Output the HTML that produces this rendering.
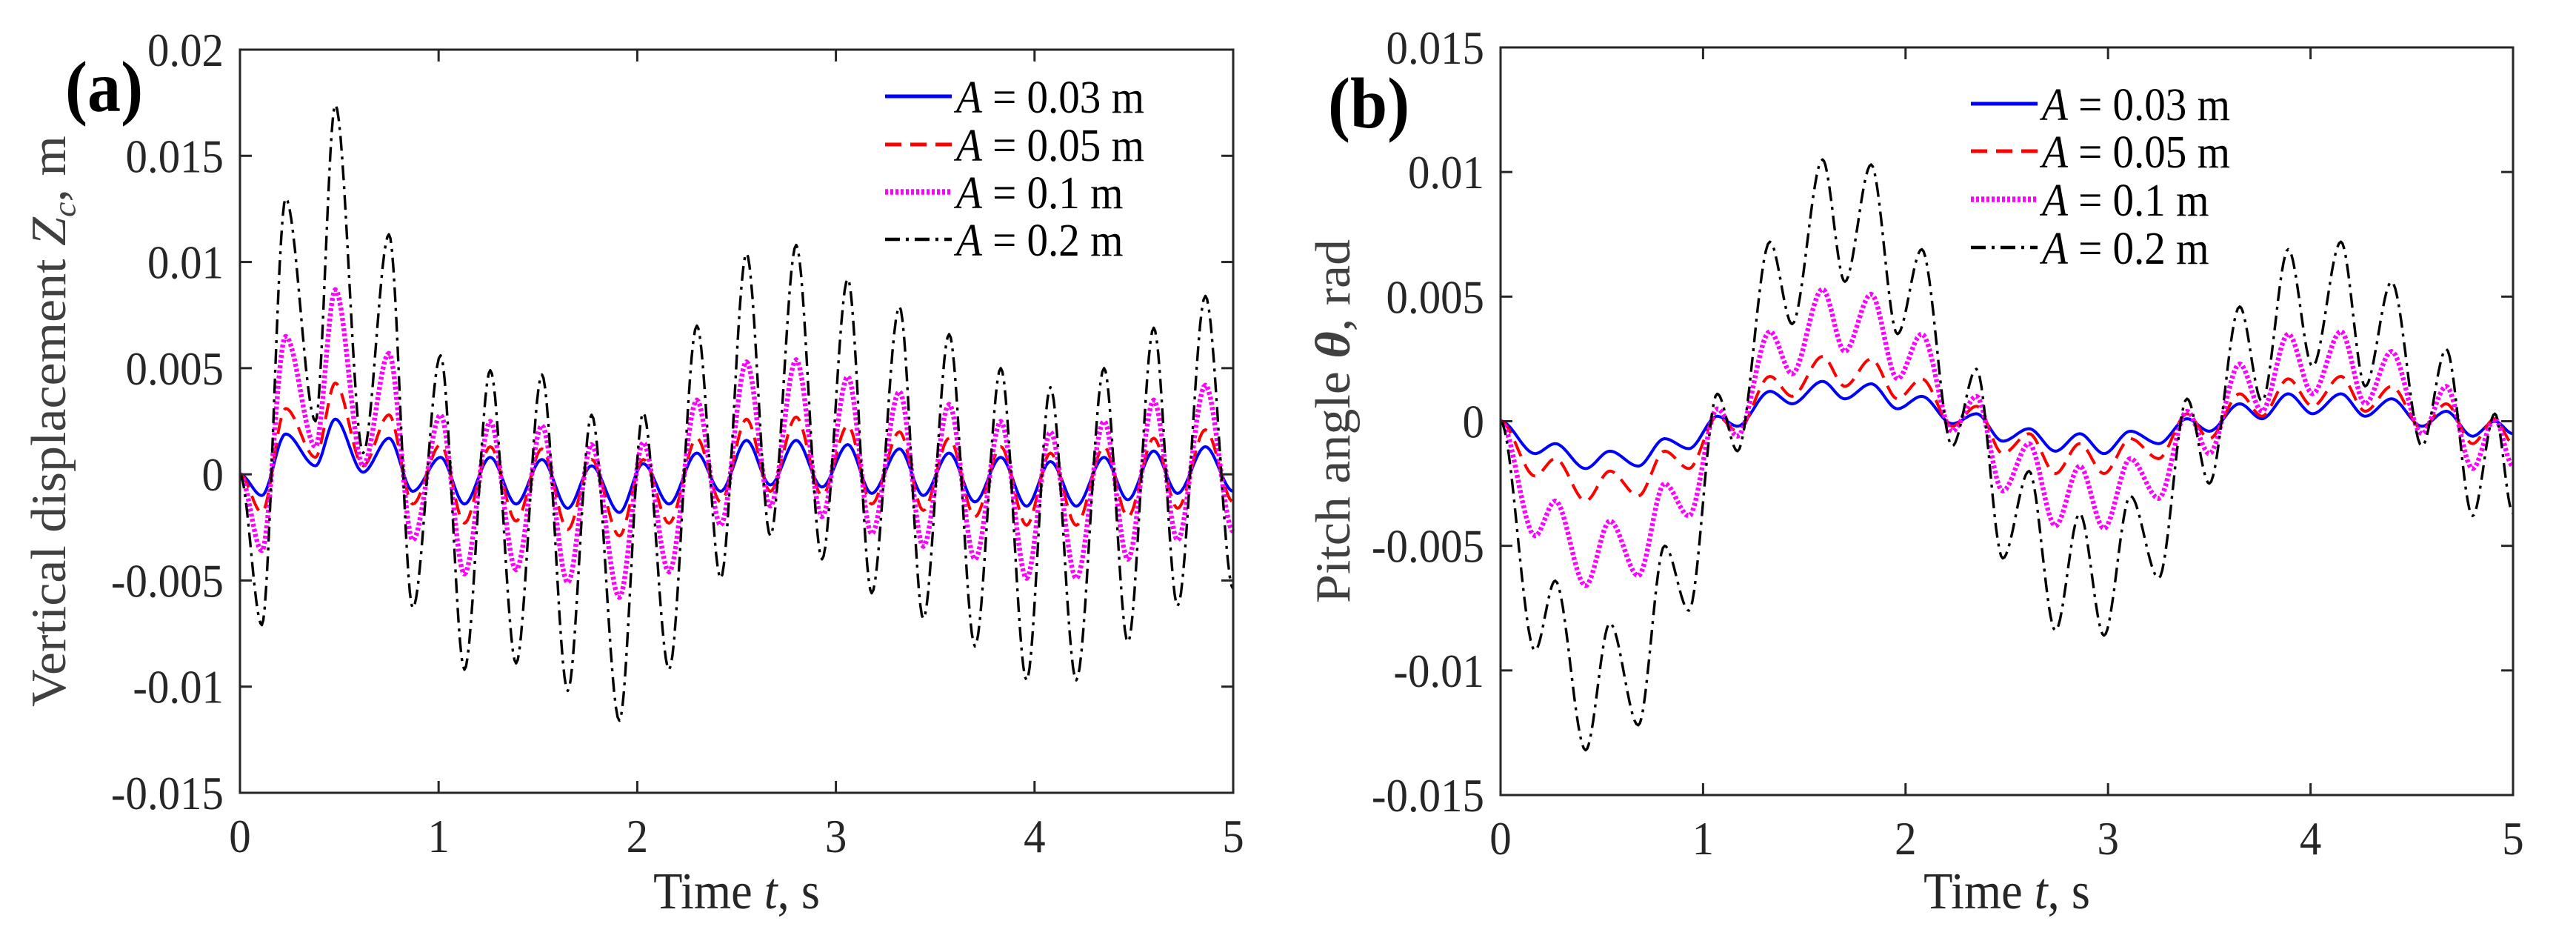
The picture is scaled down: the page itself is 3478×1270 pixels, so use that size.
<!DOCTYPE html>
<html><head><meta charset="utf-8"><style>
html,body{margin:0;padding:0;background:#fff}
svg{display:block;font-family:"Liberation Serif",serif}
</style></head><body>
<svg id="fig" width="3478" height="1270" viewBox="0 0 3478 1270" xmlns="http://www.w3.org/2000/svg"></svg>
<script>
// ---- Panel (a) data ----
const timesA = [0,0.11,0.23,0.38,0.48,0.62,0.75,0.87,1.01,1.13,1.26,1.39,1.52,1.65,1.77,1.91,2.03,2.16,2.30,2.42,2.55,2.67,2.80,2.93,3.06,3.18,3.32,3.44,3.57,3.70,3.83,3.96,4.08,4.21,4.35,4.47,4.60,4.72,4.86,5.0];
const a003 = [0,-0.001,0.0019,0.0004,0.0026,0.0001,0.0017,-0.0008,0.0008,-0.0014,0.0008,-0.0014,0.0007,-0.0016,0.0004,-0.0018,0.0005,-0.0014,0.001,-0.0008,0.0016,-0.0005,0.0016,-0.0006,0.0014,-0.0009,0.0012,-0.001,0.001,-0.0013,0.0008,-0.0015,0.0006,-0.0015,0.0008,-0.0012,0.0011,-0.0009,0.0013,-0.0008];
const a005 = [0,-0.0018,0.0031,0.0008,0.0043,0.0004,0.0028,-0.0014,0.0014,-0.0023,0.0013,-0.0022,0.0012,-0.0026,0.0007,-0.0029,0.0007,-0.0023,0.0017,-0.0013,0.0026,-0.0008,0.0027,-0.001,0.0023,-0.0014,0.002,-0.0017,0.0017,-0.002,0.0013,-0.0024,0.001,-0.0024,0.0013,-0.002,0.0017,-0.0016,0.0021,-0.0013];
const a01 = [0,-0.0036,0.0065,0.0013,0.0087,0.0004,0.0057,-0.0031,0.0028,-0.0047,0.0025,-0.0045,0.0023,-0.0051,0.0014,-0.0058,0.0015,-0.0046,0.0035,-0.0024,0.0053,-0.0015,0.0054,-0.002,0.0046,-0.0028,0.0039,-0.0034,0.0033,-0.004,0.0025,-0.0049,0.002,-0.0049,0.0025,-0.004,0.0035,-0.0031,0.0042,-0.0027];
const a02 = [0,-0.0071,0.013,0.0025,0.0174,0.001,0.0113,-0.0063,0.0056,-0.0092,0.0049,-0.0089,0.0047,-0.0102,0.0028,-0.0116,0.0029,-0.0092,0.007,-0.0049,0.0104,-0.0029,0.0108,-0.004,0.0092,-0.0056,0.0079,-0.0068,0.0066,-0.0081,0.005,-0.0097,0.0041,-0.0097,0.005,-0.0079,0.0069,-0.0062,0.0084,-0.0054];
// ---- Panel (b) data ----
const timesB = [0,0.17,0.27,0.42,0.54,0.68,0.81,0.93,1.07,1.17,1.33,1.44,1.59,1.70,1.83,1.96,2.08,2.23,2.35,2.48,2.61,2.74,2.86,2.98,3.11,3.25,3.39,3.50,3.65,3.76,3.89,4.01,4.15,4.27,4.40,4.55,4.67,4.80,4.91,5.0];
const b003 = [0,-0.0013,-0.0009,-0.0019,-0.0012,-0.0018,-0.0007,-0.0011,0.0002,-0.0002,0.0012,0.0007,0.0016,0.0009,0.0015,0.0005,0.001,-0.0001,0.0003,-0.0008,-0.0003,-0.0012,-0.0005,-0.0013,-0.0004,-0.0009,0.0001,-0.0004,0.0007,0.0001,0.0011,0.0003,0.0011,0.0002,0.0009,-0.0002,0.0004,-0.0006,0,-0.0005];
const b005 = [0,-0.0022,-0.0015,-0.0032,-0.002,-0.003,-0.0012,-0.0019,0.0002,-0.0004,0.0018,0.001,0.0026,0.0014,0.0025,0.0009,0.0017,-0.0002,0.0006,-0.0013,-0.0005,-0.0021,-0.0009,-0.0021,-0.0007,-0.0015,0.0003,-0.0007,0.0011,0.0002,0.0017,0.0006,0.0018,0.0004,0.0014,-0.0003,0.0007,-0.0009,0.0001,-0.0009];
const b01 = [0,-0.0046,-0.0032,-0.0066,-0.004,-0.0062,-0.0025,-0.0038,0.0005,-0.0006,0.0036,0.0019,0.0053,0.0028,0.0051,0.0017,0.0035,-0.0004,0.001,-0.0028,-0.0009,-0.0042,-0.0018,-0.0043,-0.0015,-0.0031,0.0004,-0.0013,0.0023,0.0004,0.0035,0.0011,0.0036,0.0007,0.0028,-0.0005,0.0014,-0.0019,0.0001,-0.0018];
const b02 = [0,-0.0092,-0.0064,-0.0132,-0.0081,-0.0122,-0.005,-0.0076,0.0011,-0.0012,0.0072,0.0039,0.0105,0.0056,0.0103,0.0035,0.0069,-0.001,0.0021,-0.0055,-0.002,-0.0084,-0.0037,-0.0086,-0.003,-0.0063,0.0009,-0.0025,0.0046,0.0008,0.0069,0.0022,0.0072,0.0014,0.0056,-0.001,0.0029,-0.0038,0.0003,-0.0037];
const xTicks = [0,1,2,3,4,5];
const xTickLabels = ["0","1","2","3","4","5"];
const yTicksA = [-0.015,-0.01,-0.005,0,0.005,0.01,0.015,0.02];
const yTickLabelsA = ["-0.015","-0.01","-0.005","0","0.005","0.01","0.015","0.02"];
const yTicksB = [-0.015,-0.01,-0.005,0,0.005,0.01,0.015];
const yTickLabelsB = ["-0.015","-0.01","-0.005","0","0.005","0.01","0.015"];
const legendLabels = ["0.03","0.05","0.1","0.2"];

const NS="http://www.w3.org/2000/svg";
const svg=document.getElementById('fig');
function el(tag,attrs,parent){const e=document.createElementNS(NS,tag);for(const k in attrs)e.setAttribute(k,attrs[k]);(parent||svg).appendChild(e);return e;}
const styles=[
 {stroke:"#0000ff",w:4,dash:""},
 {stroke:"#ff0000",w:4,dash:"22 12"},
 {stroke:"#ff00ff",w:6.5,dash:"4 3"},
 {stroke:"#000000",w:3.4,dash:"20 8 4 8"}
];
function panel(cfg){
 const g=el('g',{});
 
 
 const {L,R,T,B,ymin,ymax}=cfg;
 const sx=t=>L+(t-0)/5*(R-L);
 const sy=v=>B-(v-ymin)/(ymax-ymin)*(B-T);
 cfg.series.forEach((vals,si)=>{
  let d="";
  for(let i=0;i<cfg.times.length;i++){
   if(i===0){d+="M"+sx(cfg.times[0]).toFixed(1)+","+sy(vals[0]).toFixed(1);continue;}
   const t0=cfg.times[i-1],t1=cfg.times[i],v0=vals[i-1],v1=vals[i];
   for(let k=1;k<=16;k++){const u=k/16;const s=u*u*(3-2*u);d+=" L"+sx(t0+(t1-t0)*u).toFixed(1)+","+sy(v0+(v1-v0)*s).toFixed(1);}
  }
  const p=el('path',{d:d,fill:"none",stroke:styles[si].stroke,"stroke-width":styles[si].w,"stroke-dasharray":styles[si].dash,"stroke-linejoin":"round"},g);
  
  
 });
 const fr=el('rect',{x:L,y:T,width:R-L,height:B-T,fill:"none",stroke:"#262626","stroke-width":3},g);
 
 
 xTicks.forEach((t,i)=>{
  const x=sx(t);
  el('line',{x1:x,y1:B,x2:x,y2:B-16,stroke:"#262626","stroke-width":3},g);
  el('line',{x1:x,y1:T,x2:x,y2:T+16,stroke:"#262626","stroke-width":3},g);
  const tx=el('text',{x:0,y:0,"font-size":64,"text-anchor":"middle",fill:"#262626",transform:"translate("+x+","+(B+80)+") scale(0.92,1)"},g);
  tx.textContent=xTickLabels[i];
  
  
 });
 cfg.yTicks.forEach((v,i)=>{
  const y=sy(v);
  el('line',{x1:L,y1:y,x2:L+16,y2:y,stroke:"#262626","stroke-width":3},g);
  el('line',{x1:R,y1:y,x2:R-16,y2:y,stroke:"#262626","stroke-width":3},g);
  const tx=el('text',{x:0,y:0,"font-size":64,"text-anchor":"end",fill:"#262626",transform:"translate("+(L-22)+","+(y+22)+") scale(0.92,1)"},g);
  tx.textContent=cfg.yTickLabels[i];
  
  
 });
 const xt=el('text',{x:0,y:0,"font-size":70,"text-anchor":"middle",fill:"#262626",transform:"translate("+((L+R)/2)+",1226) scale(0.92,1)"},g);
 xt.innerHTML='Time <tspan font-style="italic">t</tspan>, s';
 
 
 const yt=el('text',{x:0,y:0,"font-size":70,"text-anchor":"middle",fill:"#404040",transform:"translate("+cfg.ylx+","+((T+B)/2)+") rotate(-90) scale(1,0.95)"},g);
 yt.innerHTML=cfg.ylabel;
 
 
 const pl=el('text',{x:0,y:0,"font-size":98,"font-weight":"bold",fill:"#000",transform:"translate("+cfg.plx+","+cfg.ply+") scale(0.92,1)"},g);
 pl.textContent=cfg.plabel;
 
 
 legendLabels.forEach((lab,i)=>{
  const y=cfg.legY[i];
  const lg=el('g',{},g);
  
  
  el('line',{x1:cfg.legX,y1:y,x2:cfg.legX+90,y2:y,stroke:styles[i].stroke,"stroke-width":styles[i].w+1,"stroke-dasharray":styles[i].dash},lg);
  const tx=el('text',{x:0,y:0,"font-size":62,fill:"#000",transform:"translate("+(cfg.legX+96)+","+(y+22)+") scale(0.92,1)"},lg);
  tx.innerHTML='<tspan font-style="italic">A</tspan> = '+lab+' m';
 });
}
panel({name:'panel-a',L:324,R:1665,T:67,B:1070,ymin:-0.015,ymax:0.02,times:timesA,series:[a003,a005,a01,a02],
 yTicks:yTicksA,yTickLabels:yTickLabelsA,ylx:88,
 ylabel:'Vertical displacement <tspan font-style="italic">Z</tspan><tspan font-style="italic" font-size="46" dy="14">c</tspan><tspan dy="-14">, m</tspan>',
 plabel:'(a)',plx:88,ply:150,legX:1195,legY:[130,195,259,323]});
panel({name:'panel-b',L:2026,R:3393,T:64,B:1073,ymin:-0.015,ymax:0.015,times:timesB,series:[b003,b005,b01,b02],
 yTicks:yTicksB,yTickLabels:yTickLabelsB,ylx:1822,
 ylabel:'Pitch angle <tspan font-weight="bold" font-style="italic">θ</tspan>, rad',
 plabel:'(b)',plx:1793,ply:172,legX:2661,legY:[140,204,269,334]});
</script>
</body></html>
